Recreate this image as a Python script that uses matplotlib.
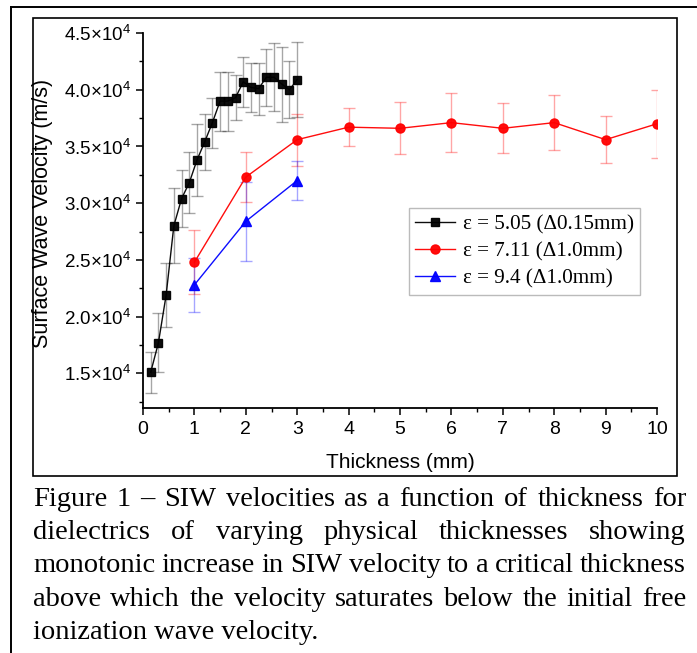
import matplotlib
matplotlib.use('Agg')
import matplotlib.pyplot as plt
from matplotlib.lines import Line2D
from matplotlib.patches import Rectangle
from matplotlib.ticker import MultipleLocator, FuncFormatter

plt.rcParams['font.family'] = ['Liberation Sans', 'DejaVu Sans']
plt.rcParams['mathtext.fontset'] = 'custom'
plt.rcParams['mathtext.rm'] = 'Liberation Sans'
plt.rcParams['mathtext.it'] = 'Liberation Sans'

W, H = 697, 653

# thickness (mm) and surface wave velocity (m/s) with error bars
eps505_x = [0.15, 0.30, 0.45, 0.60, 0.75, 0.90, 1.05, 1.20, 1.35, 1.50,
            1.65, 1.80, 1.95, 2.10, 2.25, 2.40, 2.55, 2.70, 2.85, 3.00]
eps505_v = [15100, 17700, 21900, 28000, 30400, 31800, 33800, 35400, 37100, 39000,
            39000, 39300, 40700, 40200, 40100, 41100, 41100, 40500, 40000, 40900]
eps505_err = [1800, 2600, 2800, 3300, 2500, 2700, 3200, 2500, 2200, 2600,
              2600, 2000, 2200, 2200, 2300, 2500, 3000, 3300, 2500, 3300]

eps711_x = [1, 2, 3, 4, 5, 6, 7, 8, 9, 10]
eps711_v = [24800, 32300, 35600, 36700, 36600, 37100, 36600, 37100, 35600, 37000]
eps711_err = [2800, 2200, 2300, 1700, 2300, 2600, 2200, 2400, 2100, 3000]

eps94_x = [1, 2, 3]
eps94_v = [22800, 28400, 32000]
eps94_err = [2400, 3500, 1700]

labels = ['ε = 5.05 (Δ0.15mm)', 'ε = 7.11 (Δ1.0mm)', 'ε = 9.4 (Δ1.0mm)']

caption = ['Figure 1 – SIW velocities as a function of thickness for',
           'dielectrics of varying physical thicknesses showing',
           'monotonic increase in SIW velocity to a critical thickness',
           'above which the velocity saturates below the initial free',
           'ionization wave velocity.']

fig = plt.figure(figsize=(W / 100, H / 100), dpi=100)
ax = fig.add_axes([143 / W, 1 - 408 / H, 514 / W, 375 / H])

series = [(eps505_x, eps505_v, eps505_err, 'black', 's', 6),
          (eps711_x, eps711_v, eps711_err, 'red', 'o', 6.5),
          (eps94_x, eps94_v, eps94_err, 'blue', '^', 7)]
handles = []
for (x, v, e, c, m, ms), lab in zip(series, labels):
    ax.errorbar(x, v, yerr=e, fmt='none', ecolor=c, alpha=0.35, elinewidth=1,
                capsize=4, capthick=1, zorder=2)
    h, = ax.plot(x, v, color=c, lw=1, marker=m, markersize=ms, label=lab,
                 zorder=3, alpha=0.95)
    handles.append(h)

ax.set_xlim(0, 10)
ax.set_ylim(11950, 45000)
ax.xaxis.set_major_locator(MultipleLocator(1))
ax.xaxis.set_minor_locator(MultipleLocator(0.5))
ax.yaxis.set_major_locator(MultipleLocator(5000))
ax.yaxis.set_minor_locator(MultipleLocator(2500))


def sci(val, pos):
    if val < 14000:
        return ''
    return r'$\mathregular{%.1f{\times}10^4}$' % (val / 1e4)


ax.yaxis.set_major_formatter(FuncFormatter(sci))
ax.spines['top'].set_visible(False)
ax.spines['right'].set_visible(False)
ax.spines['left'].set_linewidth(1.3)
ax.spines['bottom'].set_linewidth(1.3)
ax.tick_params(which='major', direction='out', length=5, width=1.1, labelsize=14, pad=4)
ax.tick_params(axis='y', which='major', labelsize=13.5)
ax.tick_params(which='minor', direction='out', length=3, width=1)
ax.set_xlabel('Thickness (mm)', fontsize=15, labelpad=11)
ax.set_ylabel('Surface Wave Velocity (m/s)', fontsize=15.5)
ax.yaxis.set_label_coords((53 - 143) / 514, 0.52)

leg = fig.legend(handles=handles, loc='upper left',
                 bbox_to_anchor=(409 / W, 1 - 208 / H), borderaxespad=0,
                 prop={'family': 'Liberation Serif', 'size': 15.2},
                 frameon=True, fancybox=False, edgecolor='#aaaaaa',
                 handlelength=1.9, handletextpad=0.35, labelspacing=0.36,
                 borderpad=0.3)
leg.get_frame().set_linewidth(1)

# frames around the figure and the page
fig.add_artist(Rectangle((33 / W, 1 - 476 / H), 644 / W, 458 / H, fill=False,
                         edgecolor='black', lw=1.2, transform=fig.transFigure))
fig.add_artist(Line2D([11 / W, 1], [1 - 7 / H, 1 - 7 / H], color='black', lw=1.4,
                      transform=fig.transFigure))
fig.add_artist(Line2D([11 / W, 11 / W], [1 - 7 / H, 0], color='black', lw=1.4,
                      transform=fig.transFigure))

# justified caption
renderer = fig.canvas.get_renderer()
x_left, x_right = 33, 686
for i, line in enumerate(caption):
    y = 1 - (506 + 33.2 * i) / H
    kw = dict(family='Liberation Serif', fontsize=20.5, va='baseline', ha='left')
    if i == len(caption) - 1:
        fig.text(x_left / W, y, line, **kw)
        continue
    words = line.split()
    texts = [fig.text(0, y, w, **kw) for w in words]
    widths = [t.get_window_extent(renderer).width for t in texts]
    gap = (x_right - x_left - sum(widths)) / (len(words) - 1)
    xp = x_left
    for t, wd in zip(texts, widths):
        t.set_x(xp / W)
        xp += wd + gap

fig.savefig('out.png', dpi=100)
